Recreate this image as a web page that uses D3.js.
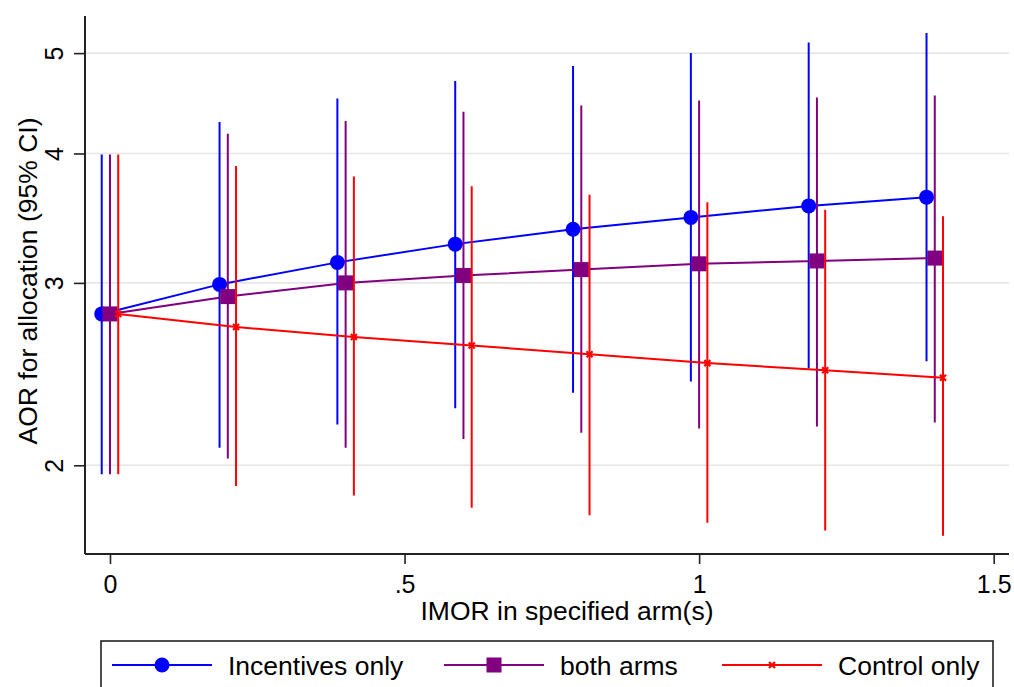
<!DOCTYPE html>
<html>
<head>
<meta charset="utf-8">
<script src="https://cdn.jsdelivr.net/npm/d3@7"></script>
<style>
  body { margin: 0; background: #fff; }
  svg { display: block; font-family: "Liberation Sans", Arial, sans-serif; }
</style>
</head>
<body>
<svg></svg>
<script>
// data
const imor = [0, 0.2, 0.4, 0.6, 0.8, 1.0, 1.2, 1.4];

const incEst = [2.80, 2.99, 3.14, 3.27, 3.38, 3.47, 3.56, 3.63];
const incLo  = [1.96, 2.08, 2.19, 2.27, 2.35, 2.41, 2.48, 2.52];
const incHi  = [3.99, 4.29, 4.52, 4.70, 4.86, 5.00, 5.12, 5.23];

const bothEst = [2.80, 2.91, 3.00, 3.05, 3.09, 3.13, 3.15, 3.17];
const bothLo  = [1.96, 2.03, 2.08, 2.12, 2.15, 2.17, 2.18, 2.20];
const bothHi  = [3.99, 4.18, 4.30, 4.39, 4.45, 4.50, 4.53, 4.55];

const ctrlEst = [2.80, 2.72, 2.66, 2.61, 2.56, 2.51, 2.47, 2.43];
const ctrlLo  = [1.96, 1.91, 1.87, 1.82, 1.79, 1.76, 1.73, 1.71];
const ctrlHi  = [3.99, 3.89, 3.80, 3.72, 3.65, 3.59, 3.53, 3.48];

const seriesNames = ['Incentives only', 'both arms', 'Control only'];
const xTicks = [0, 0.5, 1, 1.5];
const xTickLabels = ['0', '.5', '1', '1.5'];
const yTicks = [2, 3, 4, 5];

// configuration of svg/plot area
let config = { svg: {}, plot: {} };
config.svg.width = 1014;
config.svg.height = 687;
config.plot.left = 85;
config.plot.right = 1009;
config.plot.top = 16;
config.plot.bottom = 554;

const fontSize = 26.5;
const tickFontSize = 25;

const series = [
  { name: seriesNames[0], est: incEst, lo: incLo, hi: incHi, color: '#0000ff', shift: -0.014, symbol: 'circle' },
  { name: seriesNames[1], est: bothEst, lo: bothLo, hi: bothHi, color: '#800080', shift: 0, symbol: 'square' },
  { name: seriesNames[2], est: ctrlEst, lo: ctrlLo, hi: ctrlHi, color: '#ff0000', shift: 0.014, symbol: 'x' }
];

let svg = d3.select('svg')
  .attr('width', config.svg.width)
  .attr('height', config.svg.height);

let x = d3.scaleLinear().domain([-0.0424, 1.526]).range([config.plot.left, config.plot.right]);
let y = d3.scaleLog().domain([1.642, 5.43]).range([config.plot.bottom, config.plot.top]);

// gridlines
svg.append('g').selectAll('line').data(yTicks).join('line')
  .attr('x1', config.plot.left).attr('x2', config.plot.right)
  .attr('y1', d => y(d)).attr('y2', d => y(d))
  .attr('stroke', '#e6e6e6').attr('stroke-width', 1.6);

// y axis
let yAxis = svg.append('g')
  .attr('transform', `translate(${config.plot.left},0)`)
  .call(d3.axisLeft(y).tickValues(yTicks).tickFormat(d3.format('d')).tickSize(11).tickSizeOuter(0));
yAxis.select('.domain').attr('d', `M0,${config.plot.top}V${config.plot.bottom}`);
yAxis.selectAll('line').attr('stroke', '#222').attr('stroke-width', 1.6);
yAxis.select('.domain').attr('stroke', '#222').attr('stroke-width', 2);
yAxis.selectAll('text')
  .attr('x', 0).attr('dy', 0)
  .attr('transform', 'translate(-31,0) rotate(-90)')
  .attr('text-anchor', 'middle')
  .attr('dominant-baseline', 'central')
  .attr('font-size', tickFontSize).attr('fill', '#000');

// x axis
let xAxis = svg.append('g')
  .attr('transform', `translate(0,${config.plot.bottom})`)
  .call(d3.axisBottom(x).tickValues(xTicks).tickFormat((d, i) => xTickLabels[i]).tickSize(10).tickSizeOuter(0));
xAxis.select('.domain').attr('d', `M${config.plot.left},0H${config.plot.right}`)
  .attr('stroke', '#222').attr('stroke-width', 2);
xAxis.selectAll('line').attr('stroke', '#222').attr('stroke-width', 1.6);
xAxis.selectAll('text').attr('y', 21).attr('dy', '0.71em')
  .attr('font-size', tickFontSize).attr('fill', '#000');

// axis titles
svg.append('text')
  .attr('x', 567).attr('y', 620)
  .attr('text-anchor', 'middle').attr('font-size', fontSize)
  .text('IMOR in specified arm(s)');
svg.append('text')
  .attr('transform', 'translate(37,281) rotate(-90)')
  .attr('text-anchor', 'middle').attr('font-size', fontSize)
  .text('AOR for allocation (95% CI)');

function drawMarker(g, s, cx, cy) {
  if (s.symbol === 'circle') {
    g.append('circle').attr('cx', cx).attr('cy', cy).attr('r', 7.5).attr('fill', s.color);
  } else if (s.symbol === 'square') {
    g.append('rect').attr('x', cx - 7.5).attr('y', cy - 7.5).attr('width', 15).attr('height', 15).attr('fill', s.color);
  } else {
    let r = 3;
    g.append('path')
      .attr('d', `M${cx - r},${cy - r}L${cx + r},${cy + r}M${cx - r},${cy + r}L${cx + r},${cy - r}`)
      .attr('stroke', s.color).attr('stroke-width', 2.2).attr('fill', 'none');
  }
}

// series
let plot = svg.append('g').attr('id', 'plot');
series.forEach(s => {
  let g = plot.append('g');
  let pts = imor.map((v, i) => ({ x: v + s.shift, est: s.est[i], lo: s.lo[i], hi: s.hi[i] }));
  g.selectAll('line.ci').data(pts).join('line')
    .attr('class', 'ci')
    .attr('x1', d => x(d.x)).attr('x2', d => x(d.x))
    .attr('y1', d => y(d.lo)).attr('y2', d => y(d.hi))
    .attr('stroke', s.color).attr('stroke-width', 2);
  g.append('path').datum(pts)
    .attr('d', d3.line().x(d => x(d.x)).y(d => y(d.est)))
    .attr('fill', 'none').attr('stroke', s.color).attr('stroke-width', 2);
  pts.forEach(d => drawMarker(g, s, x(d.x), y(d.est)));
});

// legend
let legend = svg.append('g');
legend.append('rect')
  .attr('x', 101).attr('y', 641).attr('width', 892).attr('height', 80)
  .attr('fill', 'none').attr('stroke', '#222').attr('stroke-width', 1.6);
const legendX = [112, 444, 722];
series.forEach((s, i) => {
  let lx = legendX[i];
  let ly = 665;
  legend.append('line')
    .attr('x1', lx).attr('x2', lx + 100).attr('y1', ly).attr('y2', ly)
    .attr('stroke', s.color).attr('stroke-width', 2);
  drawMarker(legend, s, lx + 50, ly);
  legend.append('text')
    .attr('x', lx + 116).attr('y', ly + 10)
    .attr('font-size', fontSize)
    .text(s.name);
});
</script>
</body>
</html>
